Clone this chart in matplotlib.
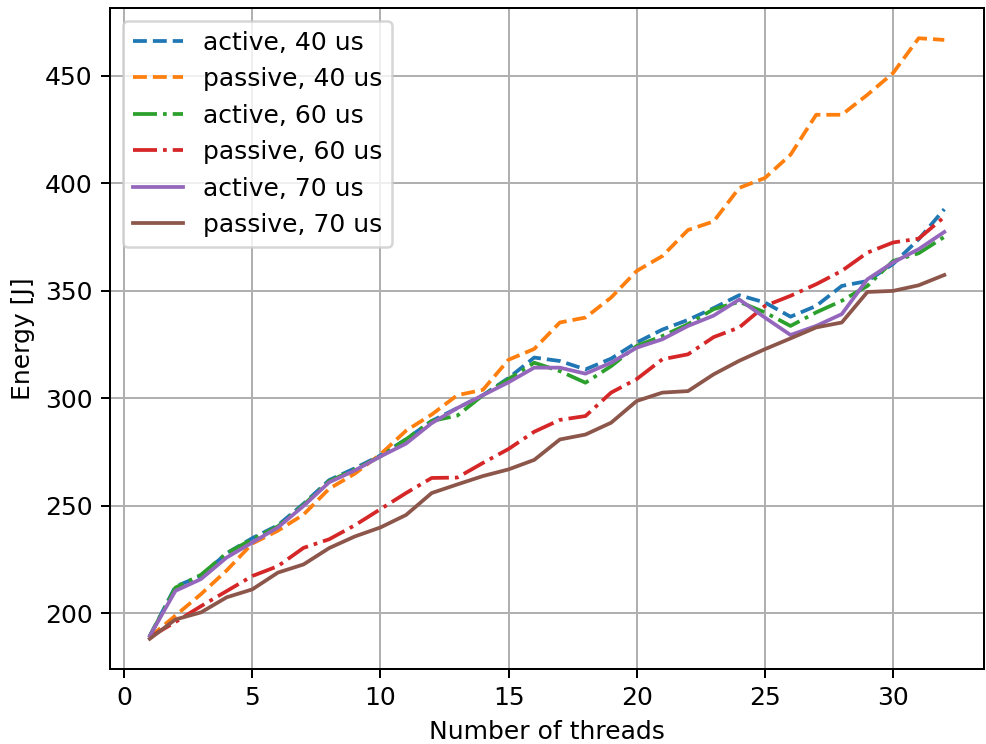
import numpy as np
import matplotlib
matplotlib.use('Agg')  # non-GUI backend
import matplotlib.pyplot as plt


# number of threads
threads = np.arange(1, 33)

# energy per configuration [J]
active_40 = [189.5, 212.5, 217.5, 228, 235, 241, 251, 262, 267.5, 273.5, 281, 289.5,
             295.5, 301.5, 309.5, 319, 317.4, 313.5, 318.5, 326, 332, 336.5, 342, 348,
             344.6, 338, 343, 352.3, 354.6, 362.5, 374, 388]
passive_40 = [189, 199, 209, 220, 232.5, 238.5, 246, 258, 265, 274, 285, 292.5,
              301.5, 304, 318, 323, 335.3, 337.6, 346.9, 359.3, 366.2, 378.3, 382.3, 397.9,
              402.5, 413.3, 431.9, 431.9, 441.2, 451.3, 467.5, 466.7]
active_60 = [189.5, 212, 218, 228, 234.5, 240.5, 250.5, 261.5, 267, 273, 281, 289.5,
             292, 301.5, 309, 316.6, 312.7, 307.3, 315, 324.4, 329, 334.5, 341.5, 344.9,
             340, 333.7, 340, 345.4, 352.3, 363.9, 367.5, 375.1]
passive_60 = [189, 196, 203.4, 210.4, 217.4, 222, 230.5, 234.5, 241, 248.5, 256, 263,
              263.2, 270, 276.5, 284.5, 290, 291.8, 302.7, 309, 318.2, 320.5, 328.5, 333,
              343, 347.7, 353.1, 359.3, 367.8, 372.5, 374.3, 384.4]
active_70 = [189.5, 210.5, 216, 226, 233, 240, 250, 261, 266.5, 273, 279, 288.5,
             295.5, 301.5, 307.5, 314.3, 314.3, 311.5, 316.6, 323.6, 327.5, 333.7, 338.5, 346,
             337.6, 329.5, 333.7, 339.2, 355.4, 363.2, 369.4, 377.4]
passive_70 = [188.2, 197.2, 200.5, 207.5, 211.2, 219, 222.8, 230.4, 235.8, 240, 245.8, 256,
              260, 263.9, 267, 271.4, 280.9, 283.2, 288.7, 298.8, 302.7, 303.4, 311.2, 317.5,
              322.9, 327.9, 333, 335.3, 349.5, 350, 352.6, 357.4]

series = [
    (active_40, 'active, 40 us', '--'),
    (passive_40, 'passive, 40 us', '--'),
    (active_60, 'active, 60 us', '-.'),
    (passive_60, 'passive, 60 us', '-.'),
    (active_70, 'active, 70 us', '-'),
    (passive_70, 'passive, 70 us', '-'),
]

DPI = 180
fig, ax = plt.subplots(figsize=(986 / DPI, 744 / DPI), dpi=DPI)
for vals, label, ls in series:
    ax.plot(threads, vals, ls, label=label)

ax.set_xlabel('Number of threads')
ax.set_ylabel('Energy [J]')
ax.grid(True)
ax.legend(loc='upper left')

fig.subplots_adjust(left=0.1116, right=0.998, top=0.989, bottom=0.101)
plt.savefig('out.png', dpi=DPI)
plt.close()
